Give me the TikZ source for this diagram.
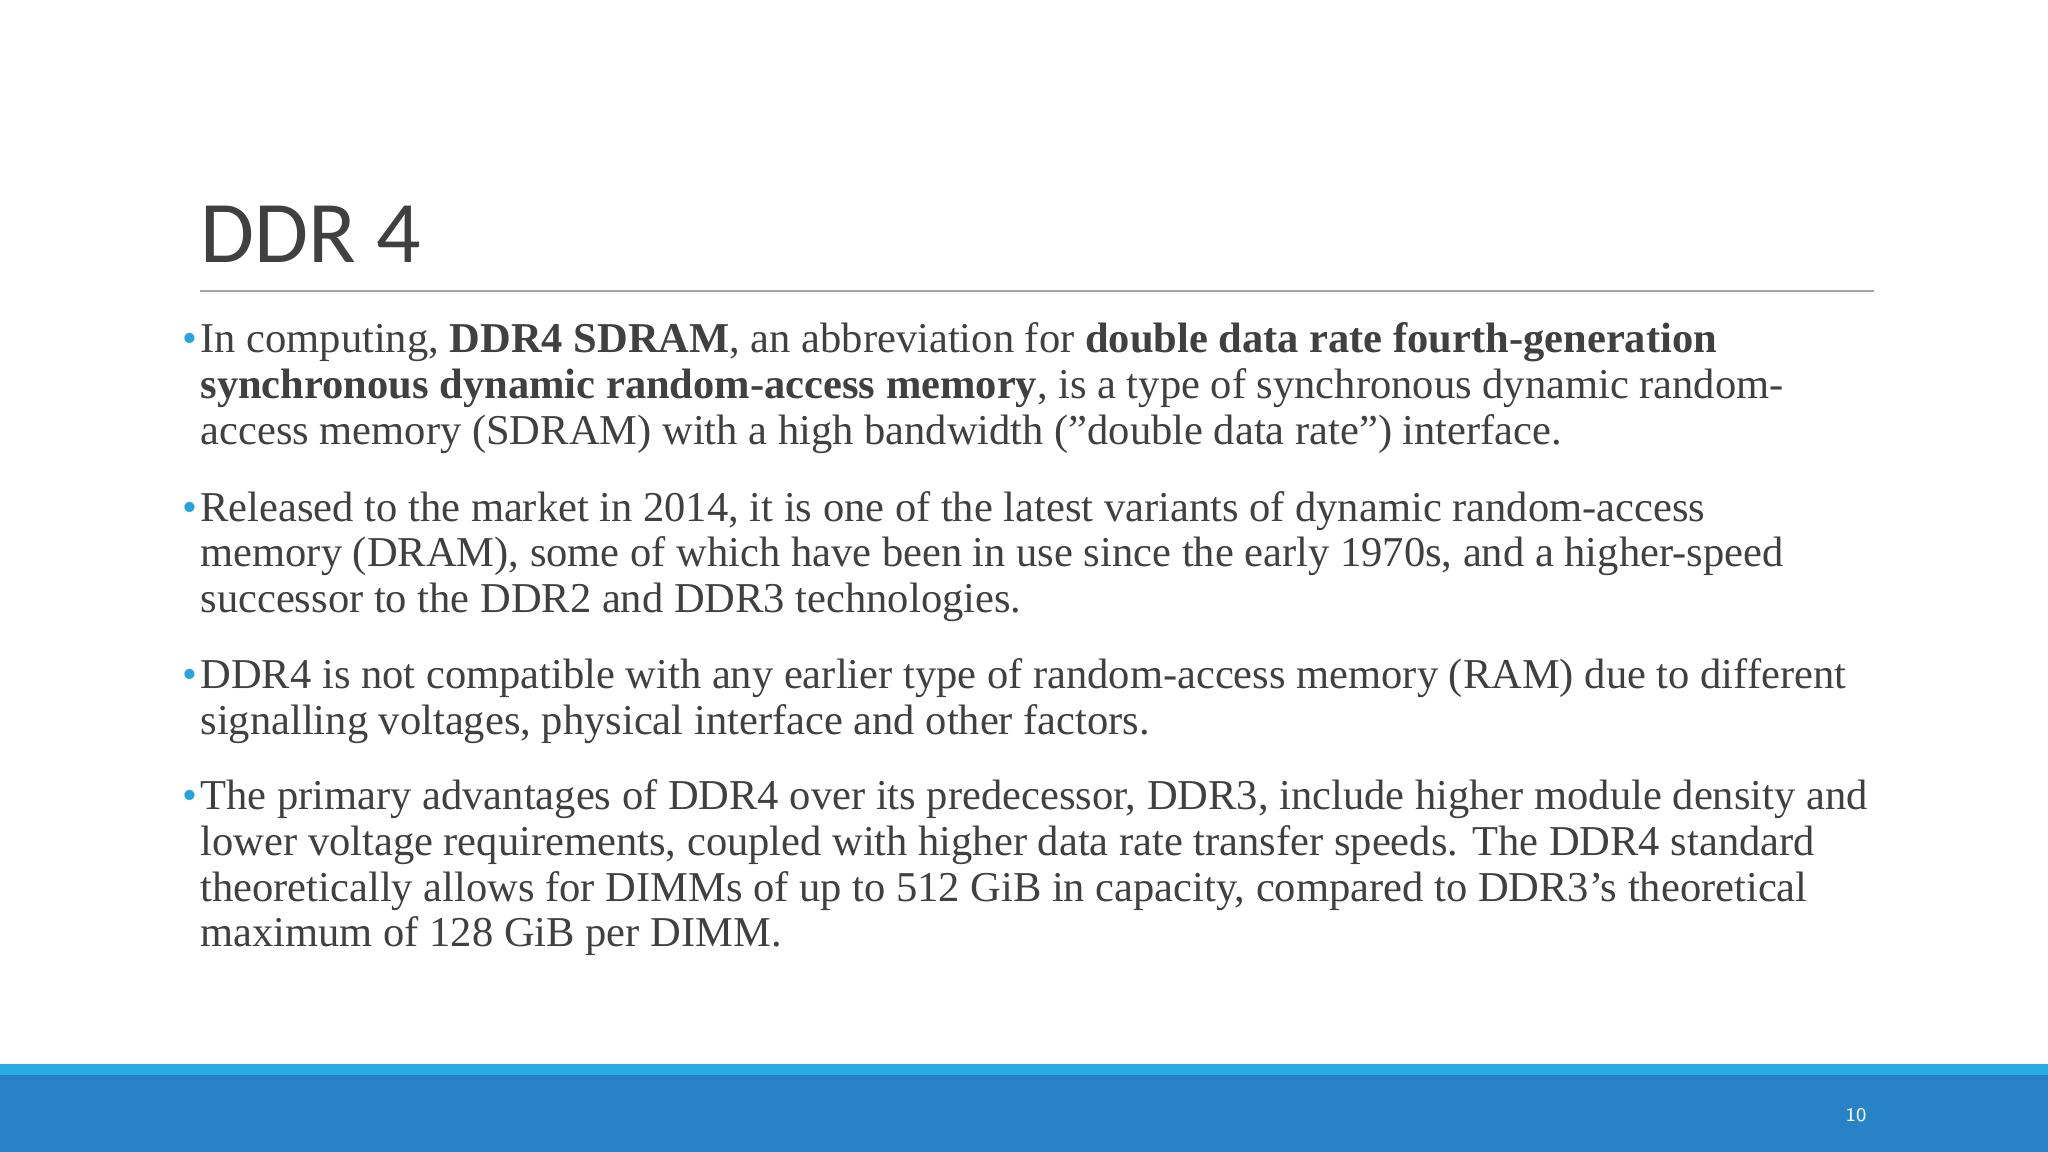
\documentclass[tikz,border=0pt]{standalone}
\usepackage{fontspec}
\setmainfont{Liberation Serif}
\newfontfamily\titlefont{Carlito}
\definecolor{txt}{HTML}{404040}
\definecolor{bul}{HTML}{2AA3DC}
\definecolor{barlight}{HTML}{2AABE2}
\definecolor{bardark}{HTML}{2783C6}
\newcommand{\dq}{{\char34}}
\newcommand{\sq}{{\char39}}
\begin{document}
\begin{tikzpicture}[x=0.013061cm,y=-0.013061cm,
  para/.style={anchor=base west,inner sep=0pt,text=txt,font=\fontsize{12.1}{13}\selectfont},
  bulletmark/.style={anchor=base west,inner sep=0pt,text=bul,font=\fontsize{12.1}{13}\selectfont}]
\useasboundingbox (0,0) rectangle (1568,882);
\fill[white] (0,0) rectangle (1568,882);
\fill[barlight] (0,815) rectangle (1568,823);
\fill[bardark] (0,823) rectangle (1568,882);
\node[anchor=base west,inner sep=0pt,text=txt,font=\titlefont\fontsize{25}{30}\selectfont] (title) at (153,201) {DDR 4};
\draw[gray!70,line width=0.6pt] (153,223) coordinate (la) -- (1435,223) coordinate (lb);
\node[bulletmark] (b1) at (139,270) {•};
\node[para] (p1) at (153,270) {\begin{tabular}[t]{@{}l@{}}In computing, \textbf{DDR4 SDRAM}, an abbreviation for \textbf{double data rate fourth-generation}\\\textbf{synchronous dynamic random-access memory}, is a type of synchronous dynamic random-\\access memory (SDRAM) with a high bandwidth (\dq double data rate\dq) interface.\end{tabular}};
\node[bulletmark] (b2) at (139,399) {•};
\node[para] (p2) at (153,399) {\begin{tabular}[t]{@{}l@{}}Released to the market in 2014, it is one of the latest variants of dynamic random-access\\memory (DRAM), some of which have been in use since the early 1970s, and a higher-speed\\successor to the DDR2 and DDR3 technologies.\end{tabular}};
\node[bulletmark] (b3) at (139,527) {•};
\node[para] (p3) at (153,527) {\begin{tabular}[t]{@{}l@{}}DDR4 is not compatible with any earlier type of random-access memory (RAM) due to different\\signalling voltages, physical interface and other factors.\end{tabular}};
\node[bulletmark] (b4) at (139,620) {•};
\node[para] (p4) at (153,620) {\begin{tabular}[t]{@{}l@{}}The primary advantages of DDR4 over its predecessor, DDR3, include higher module density and\\lower voltage requirements, coupled with higher data rate transfer speeds. The DDR4 standard\\theoretically allows for DIMMs of up to 512 GiB in capacity, compared to DDR3\sq s theoretical\\maximum of 128 GiB per DIMM.\end{tabular}};
\node[anchor=base,inner sep=0pt,text=white,font=\sffamily\fontsize{5.5}{6}\selectfont] (pg) at (1421,859) {10};
\end{tikzpicture}
\end{document}
